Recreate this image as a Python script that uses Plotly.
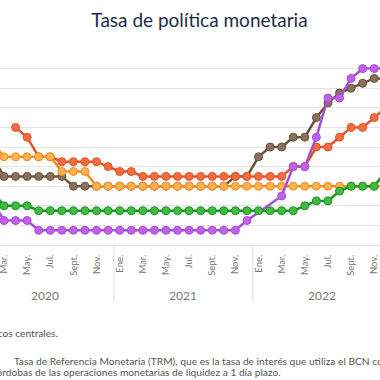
import plotly.graph_objects as go

# Months Jan 2020 .. Dec 2022 as index 0..35
months = list(range(36))
tick_idx = list(range(0, 36, 2))
tick_text = ["Ene.", "Mar.", "May.", "Jul.", "Sept.", "Nov."] * 3
years = ["2020", "2021", "2022"]

costa_rica = [2.75, 2.25, 1.25, 1.25, 1.25, 0.75, 0.75, 0.75, 0.75, 0.75, 0.75, 0.75,
              0.75, 0.75, 0.75, 0.75, 0.75, 0.75, 0.75, 0.75, 0.75, 0.75, 0.75, 1.25,
              None, None, 2.5, 4.0, 4.0, 5.5, 7.5, 7.5, 8.5, 9.0, 9.0, 9.0]
guatemala = [2.75, 2.75, 2.0, 2.0, 2.0, 1.75, 1.75, 1.75, 1.75, 1.75, 1.75, 1.75,
             1.75, 1.75, 1.75, 1.75, 1.75, 1.75, 1.75, 1.75, 1.75, 1.75, 1.75, 1.75,
             1.75, 1.75, 1.75, 1.75, 2.0, 2.25, 2.25, 2.75, 3.0, 3.0, 3.0, 3.75]
honduras = [5.5, 5.25, 4.5, 4.5, 4.5, 4.5, 4.5, 3.75, 3.75, 3.75, 3.0, 3.0,
            3.0, 3.0, 3.0, 3.0, 3.0, 3.0, 3.0, 3.0, 3.0, 3.0, 3.0, 3.0,
            3.0, 3.0, 3.0, 3.0, 3.0, 3.0, 3.0, 3.0, 3.0, 3.0, 3.0, 3.0]
rep_dominicana = [4.5, 4.5, 3.5, 3.5, 3.5, 3.5, 3.5, 3.5, 3.0, 3.0, 3.0, 3.0,
                  3.0, 3.0, 3.0, 3.0, 3.0, 3.0, 3.0, 3.0, 3.0, 3.0, 3.5, 3.5,
                  4.5, 5.0, 5.0, 5.5, 5.5, 6.5, 7.25, 7.75, 8.0, 8.25, 8.5, 8.5]
nicaragua = [None, None, None, 6.0, 5.5, 4.5, 4.5, 4.25, 4.25, 4.25, 4.25, 4.0,
             3.75, 3.75, 3.5, 3.5, 3.5, 3.5, 3.5, 3.5, 3.5, 3.5, 3.5, 3.5,
             3.5, 3.5, 3.5, 4.0, 4.0, 5.0, 5.0, 5.5, 6.0, 6.0, 6.5, 7.0]

series = [
    ("República Dominicana", rep_dominicana, "#6b5232", "#8a7060"),
    ("Nicaragua", nicaragua, "#e1532a", "#f26d3d"),
    ("Honduras", honduras, "#f68b1f", "#fbb24f"),
    ("Costa Rica", costa_rica, "#a64fd2", "#c161ea"),
    ("Guatemala", guatemala, "#1a961c", "#42bb42"),
]

fig = go.Figure()
for name, vals, lc, mc in series:
    fig.add_trace(go.Scatter(
        x=months, y=vals, name=name, mode="lines+markers",
        connectgaps=True,
        line=dict(color=lc, width=2.5),
        marker=dict(size=8, color=mc, line=dict(color=lc, width=1)),
        showlegend=False,
    ))

W, H = 380, 380
top, bottom_px = 49, 245.3
ph = bottom_px - top

def py(pix):
    return (bottom_px - pix) / ph

# year dividers
for xd in (11.5, 23.5):
    fig.add_shape(type="line", xref="x", yref="paper", x0=xd, x1=xd,
                  y0=0, y1=py(303), line=dict(color="#dddddd", width=1))

for i, yr in enumerate(years):
    fig.add_annotation(text=yr, x=5.5 + 12 * i, xref="x", y=py(295.5), yref="paper",
                       showarrow=False, font=dict(size=12, color="#777777", family="Lato"),
                       xanchor="center", yanchor="middle")

foot_font = dict(size=10.2, color="#555555", family="Lato")
fig.add_annotation(text="Fuente: bancos centrales.", x=60 / W, xref="paper",
                   y=py(333), yref="paper", showarrow=False, font=foot_font,
                   xanchor="right", yanchor="middle")
fig.add_annotation(text="Tasa de Referencia Monetaria (TRM), que es la tasa de interés que utiliza el BCN como referencia para la",
                   x=12 / W, xref="paper", y=py(361), yref="paper", showarrow=False,
                   font=foot_font, xanchor="left", yanchor="middle")
fig.add_annotation(text="en córdobas de las operaciones monetarias de liquidez a 1 día plazo.",
                   x=283 / W, xref="paper", y=py(372), yref="paper", showarrow=False,
                   font=foot_font, xanchor="right", yanchor="middle")

# x range: pixel 0 -> month 1.654, pixel 380 -> month 34.5
px_per_month = 11.57
x0 = 2 - 4 / px_per_month
x1 = x0 + W / px_per_month

fig.update_layout(
    width=W, height=H, template="none",
    margin=dict(l=0, r=0, t=top, b=H - bottom_px, pad=0),
    paper_bgcolor="white", plot_bgcolor="white",
    title=dict(text="Tasa de política monetaria", x=0.525, xanchor="center",
               y=1 - 20 / H, yanchor="middle", yref="container",
               font=dict(size=19, color="#1d2b45", family="Lato")),
    xaxis=dict(range=[x0, x1], tickvals=tick_idx, ticktext=tick_text, tickangle=-90,
               showgrid=False, zeroline=False, showline=True, linecolor="#e3e3e3",
               ticks="", tickfont=dict(size=9.5, color="#777777", family="Lato"),
               automargin=False, ticklabelstandoff=5, ticklabeloverflow="allow"),
    yaxis=dict(range=[0, 10], dtick=1, showgrid=True, gridcolor="#e3e3e3",
               gridwidth=1, zeroline=False, showticklabels=False, ticks="",
               automargin=False),
)

fig.write_html("out.html", config={"displayModeBar": False},
               post_script="document.body.style.margin='0';")
